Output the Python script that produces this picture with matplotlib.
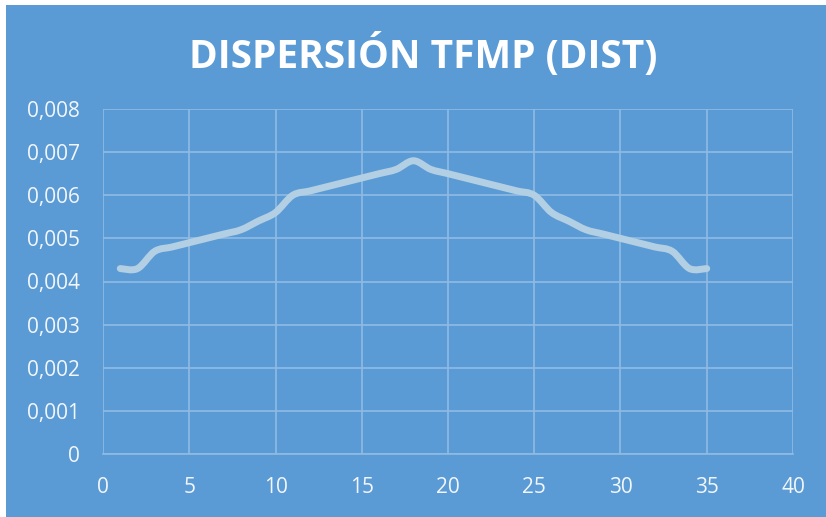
import matplotlib
matplotlib.use("Agg")
import matplotlib.pyplot as plt
import numpy as np
from matplotlib.patches import Rectangle, PathPatch
from matplotlib.path import Path
from matplotlib.ticker import FuncFormatter, MultipleLocator

title = "DISPERSIÓN TFMP (DIST)"
x_vals = list(range(1, 36))
y_vals = [0.0043, 0.0043, 0.0047, 0.0048, 0.0049, 0.0050, 0.0051, 0.0052, 0.0054, 0.0056,
          0.0060, 0.0061, 0.0062, 0.0063, 0.0064, 0.0065, 0.0066, 0.0068, 0.0066, 0.0065,
          0.0064, 0.0063, 0.0062, 0.0061, 0.0060, 0.0056, 0.0054, 0.0052, 0.0051, 0.0050,
          0.0049, 0.0048, 0.0047, 0.0043, 0.0043]

BG = "#5b9bd5"
TXT = "#f2f6fb"
GRID = "#8fbbe4"
LINE = "#b3cfe4"


def smooth_path(xs, ys):
    # Catmull-Rom style cubic Bezier through the data points (like Excel's smoothed line)
    p = np.column_stack([xs, ys]).astype(float)
    n = len(p)
    verts = [p[0]]
    codes = [Path.MOVETO]
    for i in range(n - 1):
        p0 = p[i - 1] if i > 0 else p[i]
        p3 = p[i + 2] if i + 2 < n else p[i + 1]
        c1 = p[i] + (p[i + 1] - p0) / 6.0
        c2 = p[i + 1] - (p3 - p[i]) / 6.0
        verts += [c1, c2, p[i + 1]]
        codes += [Path.CURVE4] * 3
    return Path(verts, codes)


fig = plt.figure(figsize=(8.26, 5.17), dpi=100, facecolor="white")
fig.patches.append(Rectangle((6/826, 0), 1, 1 - 5/517, transform=fig.transFigure,
                             facecolor=BG, edgecolor="none", zorder=-10))
ax = fig.add_axes([103/826, 1 - 454/517, 690/826, 345/517])
ax.set_facecolor("none")
ax.add_patch(PathPatch(smooth_path(x_vals, y_vals), facecolor="none", edgecolor=LINE,
                       linewidth=5, capstyle="round", joinstyle="round", zorder=3))
ax.set_xlim(0, 40)
ax.set_ylim(0, 0.008)
ax.xaxis.set_major_locator(MultipleLocator(5))
ax.yaxis.set_major_locator(MultipleLocator(0.001))
ax.yaxis.set_major_formatter(FuncFormatter(lambda v, p: "0" if abs(v) < 1e-12 else f"{v:.3f}".replace(".", ",")))
ax.grid(True, color=GRID, linewidth=1.2)
for s in ["top", "right", "left"]:
    ax.spines[s].set_visible(False)
ax.spines["bottom"].set_color(GRID)
ax.spines["bottom"].set_linewidth(1.2)
ax.tick_params(length=0, colors=TXT, labelsize=15)
ax.tick_params(axis="y", pad=16.5)
ax.tick_params(axis="x", pad=16.5)
for lab in ax.get_xticklabels() + ax.get_yticklabels():
    lab.set_fontfamily("Open Sans")
fig.text(423/826, 1 - 55/517, title, ha="center", va="center", color="white",
         fontsize=28, fontweight="bold", fontfamily="Open Sans")
fig.savefig("out.png", dpi=100, facecolor=fig.get_facecolor())
